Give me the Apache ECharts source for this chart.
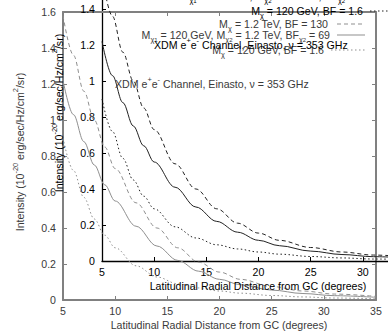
<!DOCTYPE html>
<html><head><meta charset="utf-8">
<script src="https://cdn.jsdelivr.net/npm/echarts@6/dist/echarts.min.js"></script>
<style>html,body{margin:0;padding:0;background:#fff;overflow:hidden}#c{width:388px;height:332px}</style>
</head><body><div id="c"></div>
<script>
// ---- data (intensity in 10^-20 erg/sec/Hz/cm^2/sr vs latitudinal distance in degrees) ----
const angles = [5, 6, 7, 8, 9, 10, 12, 14, 16, 18, 20, 22, 25, 28, 31, 35];
const heavyBF130 = [1.58, 1.36, 1.16, 1.0, 0.85, 0.73, 0.54, 0.40, 0.29, 0.21, 0.155, 0.115, 0.075, 0.05, 0.033, 0.02];
const twoCompBF69 = [1.22, 1.03, 0.88, 0.75, 0.64, 0.55, 0.41, 0.30, 0.22, 0.16, 0.115, 0.085, 0.055, 0.036, 0.024, 0.015];
const lightBF16 = [0.90, 0.72, 0.57, 0.45, 0.36, 0.29, 0.19, 0.128, 0.09, 0.067, 0.05, 0.038, 0.025, 0.017, 0.011, 0.007];
const xTicks = [5, 10, 15, 20, 25, 30, 35];
const yTicks = [0, 0.2, 0.4, 0.6, 0.8, 1, 1.2, 1.4, 1.6];
const titleText = 'XDM e{sup|+}e{sup|-} Channel, Einasto, ν = 353 GHz';
const xName = 'Latitudinal Radial Distance from GC (degrees)';
const yName = 'Intensity (10{sup|-20} erg/sec/Hz/cm{sup|2}/sr)';
const legendHeavy = 'M{sub|χ} = 1.2 TeV, BF = 130';
const legendTwo = 'M{sub|χ}{ss|1} = 120 GeV, M{sub|χ}{ss|2} = 1.2 TeV, BF{sub|χ}{ss|2} = 69';
const legendLight = 'M{sub|χ} = 120 GeV, BF = 1.6';

// ---- layout ----
const FONT = 'Liberation Sans, Arial, Helvetica, sans-serif';
const FS = 10.6;
const plotW = 313, plotH = 288;
const charts = [
  {left: 63, top: 12, axis: '#808080', axisW: 2, line: '#8f8f8f', text: '#3a3a3a', mirror: true, showMax: true},
  {left: 102, top: -27, axis: '#000000', axisW: 1.3, line: '#222222', text: '#000000', mirror: false, showMax: false}
];
const DX = 39, DY = -39;

const rich = {
  sup: {fontSize: 7.4, lineHeight: 8, verticalAlign: 'top', fontFamily: FONT},
  sub: {fontSize: 7.4, lineHeight: 8, verticalAlign: 'bottom', fontFamily: FONT},
  ss: {fontSize: 6, lineHeight: 4, verticalAlign: 'bottom', fontFamily: FONT}
};

const grid = [], xAxis = [], yAxis = [], series = [], graphic = [];
charts.forEach((c, gi) => {
  grid.push({left: c.left, top: c.top, width: plotW, height: plotH, containLabel: false, outerBoundsMode: 'none'});
  const common = {
    gridIndex: gi, type: 'value', splitLine: {show: false},
    axisLine: {show: true, onZero: false, lineStyle: {color: c.axis, width: c.axisW}},
    axisTick: {show: true, inside: true, length: 4, lineStyle: {color: c.axis, width: 1}}
  };
  xAxis.push(Object.assign({}, common, {
    position: 'bottom', min: xTicks[0], max: xTicks[xTicks.length - 1], interval: xTicks[1] - xTicks[0],
    axisLabel: {color: c.text, fontSize: FS, fontFamily: FONT, margin: 5, showMaxLabel: c.showMax, formatter: v => String(v)}
  }));
  yAxis.push(Object.assign({}, common, {
    position: 'left', min: yTicks[0], max: yTicks[yTicks.length - 1], interval: 0.2,
    axisLabel: {color: c.text, fontSize: FS, fontFamily: FONT, margin: 7, showMaxLabel: c.showMax, formatter: v => String(+v.toFixed(1))}
  }));
  if (c.mirror) {
    xAxis.push(Object.assign({}, common, {
      position: 'top', min: xTicks[0], max: xTicks[xTicks.length - 1], interval: 5, axisLabel: {show: false}
    }));
    yAxis.push(Object.assign({}, common, {
      position: 'right', min: 0, max: 1.6, interval: 0.2, axisLabel: {show: false}
    }));
  }
});
const xIdx = [0, 2], yIdx = [0, 2];
const curves = [
  {data: heavyBF130, dash: [4, 3]},
  {data: twoCompBF69, dash: 'solid'},
  {data: lightBF16, dash: [1.5, 2.5]}
];
charts.forEach((c, gi) => {
  curves.forEach(cv => {
    series.push({
      type: 'line', xAxisIndex: xIdx[gi], yAxisIndex: yIdx[gi], z: 2 + gi * 3,
      data: angles.map((a, i) => [a, cv.data[i]]),
      showSymbol: false, smooth: 0.35, smoothMonotone: 'x', silent: true, animation: false,
      lineStyle: {color: c.line, width: 1, type: cv.dash}
    });
  });
  const ox = gi * DX, oy = gi * DY;
  const z = 10 + gi * 10;
  const txt = (t, x, y, align, extra) => graphic.push(Object.assign({
    type: 'text', x, y, z, silent: true,
    style: {text: t, fill: c.text, fontSize: FS, fontFamily: FONT, lineHeight: 16,
      align: align, verticalAlign: 'middle', rich: rich}
  }, extra || {}));
  txt(titleText, 115 + ox, 84 + oy, 'left');
  txt(xName, 219 + ox, 325 + oy, 'center');
  txt(yName, 20 + ox, 152 + oy, 'center', {rotation: Math.PI / 2});
  const keys = [
    {t: legendHeavy, y: 24, tx: 328, x1: 337, dash: [4, 3]},
    {t: legendTwo, y: 35, tx: 330, x1: 337, dash: null},
    {t: legendLight, y: 50, tx: 324, x1: 331, dash: [1.5, 2.5]}
  ];
  keys.forEach(k => {
    txt(k.t, k.tx + ox, k.y + oy, 'right');
    graphic.push({type: 'line', z, silent: true,
      shape: {x1: k.x1 + ox, y1: k.y + oy, x2: 365 + ox, y2: k.y + oy},
      style: {stroke: c.line, lineWidth: 1, lineDash: k.dash}});
  });
});

const chart = echarts.init(document.getElementById('c'), null, {renderer: 'svg'});
chart.setOption({
  animation: false,
  backgroundColor: '#ffffff',
  grid, xAxis, yAxis, series, graphic
});
</script></body></html>
